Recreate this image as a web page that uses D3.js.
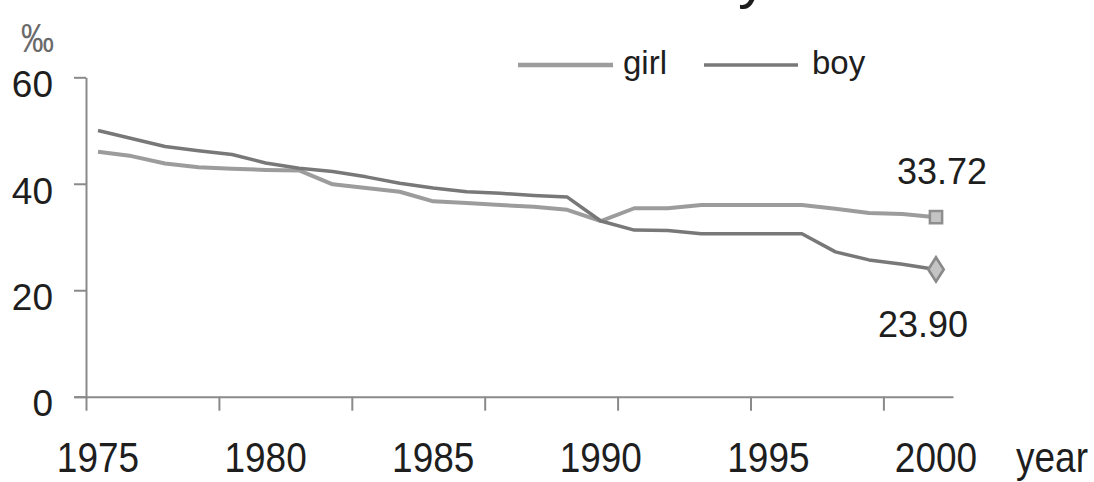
<!DOCTYPE html>
<html>
<head>
<meta charset="utf-8">
<script src="https://cdn.jsdelivr.net/npm/d3@7/dist/d3.min.js"></script>
<style>
  html, body { margin: 0; padding: 0; background: #ffffff; }
  svg { display: block; }
  text { font-family: "Liberation Sans", Arial, sans-serif; }
</style>
</head>
<body>
<svg id="chart" width="1094" height="482"></svg>
<script>
// ---- data ----
const years = d3.range(1975, 2001);
const girl = [46.0, 45.2, 43.8, 43.1, 42.8, 42.6, 42.5, 39.9, 39.2, 38.5, 36.7, 36.4, 36.0, 35.7, 35.1,
              33.0, 35.4, 35.4, 36.0, 36.0, 36.0, 36.0, 35.3, 34.5, 34.3, 33.72];
const boy  = [50.0, 48.5, 47.0, 46.2, 45.5, 43.9, 42.9, 42.3, 41.3, 40.1, 39.2, 38.5, 38.2, 37.8, 37.5,
              33.0, 31.3, 31.2, 30.6, 30.6, 30.6, 30.6, 27.2, 25.7, 24.9, 23.90];
const yTicks = [0, 20, 40, 60];
const xLabels = [1975, 1980, 1985, 1990, 1995, 2000];
const seriesNames = ["girl", "boy"];
const endLabels = ["33.72", "23.90"];

// ---- layout ----
const svg = d3.select("#chart");
const x = d3.scaleLinear().domain([1975, 2000]).range([98, 936]);
const y = d3.scaleLinear().domain([0, 60]).range([396.7, 77.3]);

const axisColor = "#8a8a8a";
const textColor = "#1e1e1e";
const girlColor = "#9c9c9c";
const boyColor = "#787878";

// x axis line + tick marks
const xa = x.copy().domain([x.invert(74), x.invert(953)]).range([74, 953]);
const tickYears = d3.range(0, 7).map(i => x.invert(86 + i * 132.9));
const gx = svg.append("g").attr("transform", `translate(0,${y(0)})`)
  .call(d3.axisBottom(xa).tickValues(tickYears).tickFormat("").tickSize(14).tickSizeOuter(0));
gx.selectAll("path, line").attr("stroke", axisColor).attr("stroke-width", 2);

// y axis
const gy = svg.append("g").attr("transform", "translate(86,0)")
  .call(d3.axisLeft(y).tickValues(yTicks).tickSize(12).tickSizeOuter(0).tickPadding(21));
gy.selectAll("path, line").attr("stroke", axisColor).attr("stroke-width", 2);
gy.selectAll("text").attr("font-size", 37).attr("fill", textColor)
  .attr("font-family", "Liberation Sans, Arial, sans-serif").attr("dy", "0.52em");

// x labels (slightly tall lettering)
svg.append("g").selectAll("text").data(xLabels).join("text")
  .attr("transform", d => `translate(${x(d)},472) scale(1,1.17)`)
  .attr("text-anchor", "middle").attr("font-size", 37).attr("fill", textColor)
  .text(d => d);
svg.append("text").attr("transform", "translate(1052,472) scale(1,1.17)")
  .attr("text-anchor", "middle").attr("font-size", 37).attr("fill", textColor).text("year");

// unit
svg.append("text").attr("transform", "translate(21,52) scale(1,1.25)")
  .attr("font-size", 33).attr("fill", "#6a6a6a").text("‰");

// truncated title fragment at top
svg.append("text").attr("x", 738).attr("y", -3).attr("font-size", 60).attr("fill", textColor)
  .text("y");

// lines
const line = d3.line().x((d, i) => x(years[i])).y(d => y(d));
svg.append("path").datum(girl).attr("d", line).attr("fill", "none")
  .attr("stroke", girlColor).attr("stroke-width", 4).attr("stroke-linejoin", "round");
svg.append("path").datum(boy).attr("d", line).attr("fill", "none")
  .attr("stroke", boyColor).attr("stroke-width", 3.5).attr("stroke-linejoin", "round");

// end markers
const lastYear = years[years.length - 1];
svg.append("path")
  .attr("d", d3.symbol().type(d3.symbolSquare).size(150)())
  .attr("transform", `translate(${x(lastYear)},${y(girl[girl.length - 1])})`)
  .attr("fill", "#c4c4c4").attr("stroke", "#8e8e8e").attr("stroke-width", 2.5);
svg.append("path")
  .attr("d", d3.symbol().type(d3.symbolDiamond).size(170)())
  .attr("transform", `translate(${x(lastYear)},${y(boy[boy.length - 1])}) scale(1.1,1)`)
  .attr("fill", "#c4c4c4").attr("stroke", "#8a8a8a").attr("stroke-width", 2.5);

// end labels
svg.append("text").attr("x", 942).attr("y", 184).attr("text-anchor", "middle")
  .attr("font-size", 36).attr("fill", textColor).text(endLabels[0]);
svg.append("text").attr("x", 923).attr("y", 337).attr("text-anchor", "middle")
  .attr("font-size", 36).attr("fill", textColor).text(endLabels[1]);

// legend
const legend = [
  { name: seriesNames[0], color: girlColor, w: 4.5, x1: 518, x2: 613, tx: 623 },
  { name: seriesNames[1], color: boyColor, w: 3.5, x1: 704, x2: 798, tx: 812 }
];
legend.forEach(l => {
  svg.append("line").attr("x1", l.x1).attr("x2", l.x2).attr("y1", 65).attr("y2", 65)
    .attr("stroke", l.color).attr("stroke-width", l.w);
  svg.append("text").attr("x", l.tx).attr("y", 74).attr("font-size", 33)
    .attr("fill", textColor).text(l.name);
});
</script>
</body>
</html>
